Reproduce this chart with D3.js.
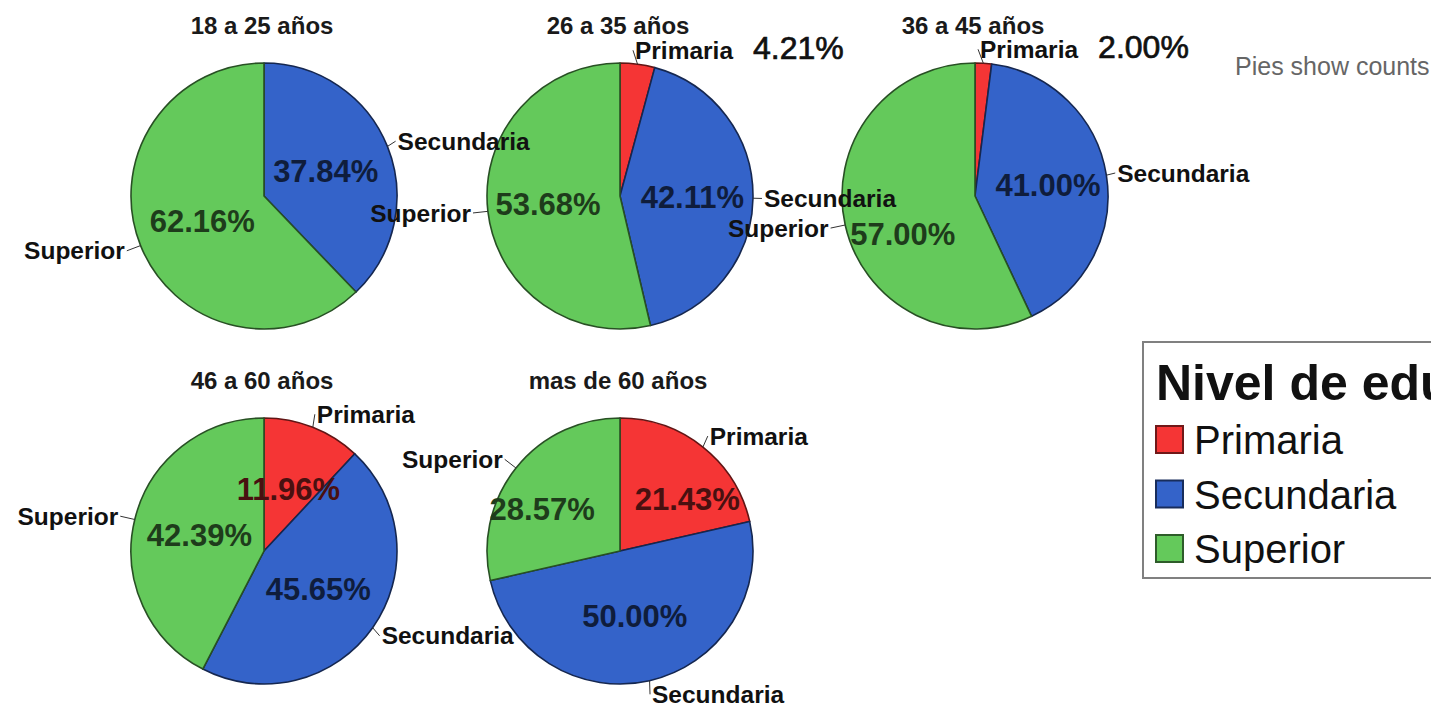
<!DOCTYPE html>
<html>
<head>
<meta charset="utf-8">
<script src="https://cdn.jsdelivr.net/npm/d3@7"></script>
<style>
  html, body { margin: 0; padding: 0; background: #ffffff; }
  svg { display: block; }
</style>
</head>
<body>
<svg id="chart" width="1431" height="705"></svg>
<script>
// ---- data ----
const groups = ["18 a 25 años", "26 a 35 años", "36 a 45 años", "46 a 60 años", "mas de 60 años"];
const categories = ["Primaria", "Secundaria", "Superior"];
const primaria   = [0, 4.21, 2.00, 11.96, 21.43];
const secundaria = [37.84, 42.11, 41.00, 45.65, 50.00];
const superior   = [62.16, 53.68, 57.00, 42.39, 28.57];
const legendTitle = "Nivel de educación";
const footNote = "Pies show counts";

// ---- styles / layout ----
const colors = ["#f53535", "#3463c9", "#64c95b"];
const R = 133;
const centers = [[264, 196], [620, 196], [975, 196], [264, 551], [620, 551]];
const FONT = "'Liberation Sans', Arial, sans-serif";

const svg = d3.select("#chart");
const color = d3.scaleOrdinal().domain(categories).range(colors);
const pie = d3.pie().sort(null).value(d => d.value).startAngle(0).endAngle(2 * Math.PI);
const arc = d3.arc().innerRadius(0).outerRadius(R);
const fmt = v => v.toFixed(2) + "%";

const pieLayer = svg.append("g");
const labelLayer = svg.append("g");

const outsideBoxes = [];
const insideAll = [];

groups.forEach((g, gi) => {
  const [cx, cy] = centers[gi];
  const vals = [primaria[gi], secundaria[gi], superior[gi]];
  const data = categories.map((c, i) => ({ cat: c, value: vals[i] }));
  const arcs = pie(data).filter(a => a.data.value > 0);
  const pg = pieLayer.append("g").attr("transform", `translate(${cx},${cy})`);
  const lgp = labelLayer.append("g").attr("transform", `translate(${cx},${cy})`);

  // title
  lgp.append("text")
    .attr("x", -2).attr("y", -R - 29)
    .attr("text-anchor", "middle")
    .attr("font-family", FONT).attr("font-weight", "bold").attr("font-size", 24)
    .attr("fill", "#1a1a1a")
    .text(g);

  // slices
  pg.selectAll("path.slice").data(arcs).enter().append("path")
    .attr("class", "slice")
    .attr("d", arc)
    .attr("fill", d => color(d.data.cat))
    .attr("stroke", d => d3.color(color(d.data.cat)).darker(2.6))
    .attr("stroke-width", 1.6)
    .attr("stroke-linejoin", "round");

  const inside = [];
  arcs.forEach(a => {
    const mid = (a.startAngle + a.endAngle) / 2;
    const s = Math.sin(mid), c = Math.cos(mid);
    const right = s >= 0;
    const small = a.data.value < 10;

    const ex = R * s, ey = -R * c;
    const lx = (R + 6) * s, ly = -(R + 6) * c - 8 * c;
    const tx = lx + (right ? 5 : -11) * Math.abs(s) - (small ? 4 : 0);

    lgp.append("line")
      .attr("x1", ex).attr("y1", ey)
      .attr("x2", tx + (right ? -2 : 2)).attr("y2", ly)
      .attr("stroke", "#333").attr("stroke-width", 1);

    const t = lgp.append("text")
      .attr("x", tx).attr("y", ly)
      .attr("dy", "0.35em")
      .attr("text-anchor", right ? "start" : "end")
      .attr("font-family", FONT).attr("font-weight", "bold").attr("font-size", 24.5)
      .attr("fill", "#111");
    t.append("tspan").text(a.data.cat);
    if (small) {
      t.append("tspan")
        .attr("dx", 20)
        .attr("font-size", 32).attr("font-weight", "normal")
        .attr("stroke", "#111").attr("stroke-width", 0.7)
        .text(fmt(a.data.value));
    }
    const bb = t.node().getBBox();
    outsideBoxes.push({ x0: bb.x + cx, x1: bb.x + bb.width + cx, y0: bb.y + cy, y1: bb.y + bb.height + cy });

    if (!small) {
      const px = 0.5 * R * s, py = -0.5 * R * c;
      const pt = lgp.append("text")
        .attr("x", px).attr("y", py)
        .attr("dy", "0.35em")
        .attr("text-anchor", "middle")
        .attr("font-family", FONT).attr("font-weight", "bold").attr("font-size", 31)
        .attr("fill", d3.color(color(a.data.cat)).darker(3.4))
        .text(fmt(a.data.value));
      const rec = { node: pt, x: px, y: py, w: pt.node().getComputedTextLength(), cx, cy };
      inside.push(rec);
      insideAll.push(rec);
    }
  });

  // simple collision avoidance between inside percentage labels of one pie
  for (let i = 0; i < inside.length; i++) {
    for (let j = i + 1; j < inside.length; j++) {
      const A = inside[i], B = inside[j];
      if (Math.abs(A.y - B.y) < 32) {
        const need = (A.w + B.w) / 2 + 40;
        const dist = Math.abs(A.x - B.x);
        if (dist < need) {
          const shift = (need - dist) / 2;
          const sign = A.x < B.x ? -1 : 1;
          A.x += sign * shift; B.x -= sign * shift;
          A.node.attr("x", A.x); B.node.attr("x", B.x);
        }
      }
    }
  }
});

// push inside percentage labels down if they collide with a neighbour's category label
insideAll.forEach(L => {
  const half = 13;
  let guard = 0;
  const hits = () => outsideBoxes.some(b => {
    const x0 = L.cx + L.x - L.w / 2, x1 = L.cx + L.x + L.w / 2;
    const y0 = L.cy + L.y - half, y1 = L.cy + L.y + half;
    return x0 < b.x1 && x1 > b.x0 && y0 < b.y1 + 8 && y1 > b.y0;
  });
  while (hits() && guard++ < 40) { L.y += 2; }
  L.node.attr("y", L.y);
});

// foot note
svg.append("text")
  .attr("x", 1235).attr("y", 75)
  .attr("font-family", FONT).attr("font-size", 25)
  .attr("fill", "#666")
  .text(footNote);

// legend
const lg = svg.append("g").attr("transform", "translate(1143,342)");
lg.append("rect")
  .attr("x", 0).attr("y", 0).attr("width", 320).attr("height", 236)
  .attr("fill", "#fff").attr("stroke", "#808080").attr("stroke-width", 2);
lg.append("text")
  .attr("x", 13).attr("y", 58)
  .attr("font-family", FONT).attr("font-weight", "bold").attr("font-size", 50)
  .attr("fill", "#111")
  .text(legendTitle);
const items = lg.selectAll("g.item").data(categories).enter().append("g")
  .attr("class", "item")
  .attr("transform", (d, i) => `translate(12, ${98 + i * 54.5})`);
items.append("rect")
  .attr("x", 1).attr("y", -14).attr("width", 27).attr("height", 27)
  .attr("fill", d => color(d))
  .attr("stroke", d => d3.color(color(d)).darker(2.2)).attr("stroke-width", 2);
items.append("text")
  .attr("x", 39).attr("y", 0).attr("dy", "0.35em")
  .attr("font-family", FONT).attr("font-size", 40)
  .attr("fill", "#111")
  .text(d => d);
</script>
</body>
</html>
